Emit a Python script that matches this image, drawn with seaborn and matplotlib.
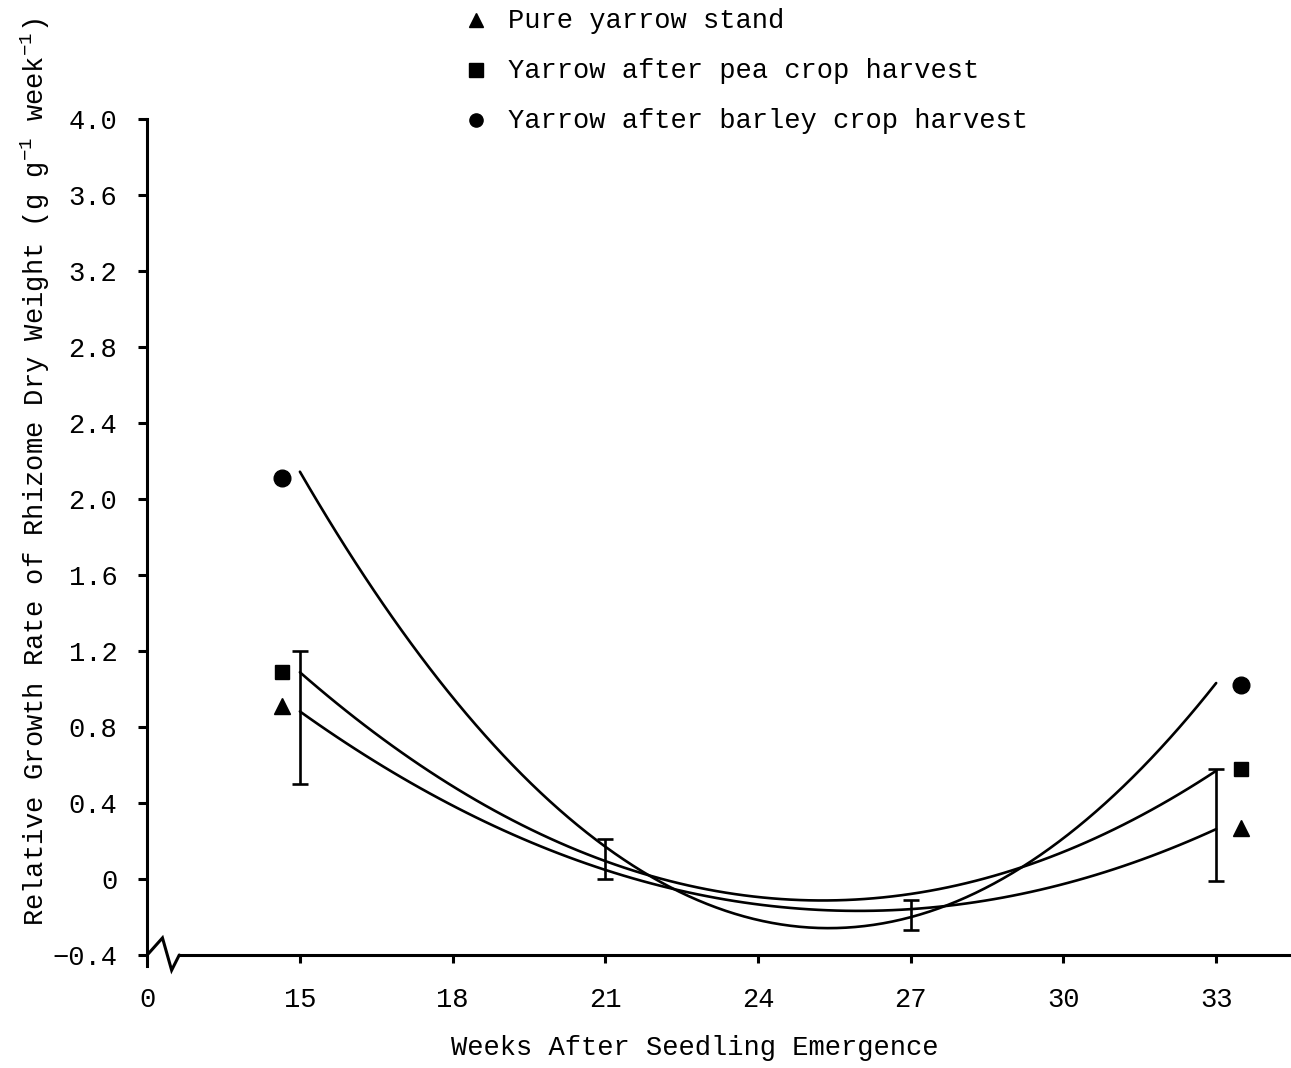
import matplotlib
matplotlib.use("Agg")
import matplotlib.pyplot as plt
from matplotlib.lines import Line2D
import numpy as np
import pandas as pd
import seaborn as sns

# Harvest weeks and relative growth rate of rhizome dry weight (g g-1 week-1)
weeks = [15, 18, 21, 24, 27, 30, 33]
pure_stand = [0.87, 0.40, 0.06, -0.14, -0.17, -0.03, 0.27]
after_pea = [1.08, 0.50, 0.10, -0.10, -0.09, 0.15, 0.57]
after_barley = [2.14, 0.96, 0.18, -0.23, -0.20, 0.22, 1.03]

series_names = ["Pure yarrow stand",
                "Yarrow after pea crop harvest",
                "Yarrow after barley crop harvest"]
series_markers = ["^", "s", "o"]

# Treatment symbols set beside the first and last harvest
first_harvest_values = [0.91, 1.09, 2.11]
last_harvest_values = [0.27, 0.58, 1.02]

# LSD bars
lsd_weeks = [15, 21, 27, 33]
lsd_low = [0.50, 0.00, -0.27, -0.01]
lsd_high = [1.20, 0.21, -0.11, 0.58]

x_ticks = [12, 15, 18, 21, 24, 27, 30, 33]
x_tick_labels = ["0", "15", "18", "21", "24", "27", "30", "33"]
y_ticks = [-0.4, 0.0, 0.4, 0.8, 1.2, 1.6, 2.0, 2.4, 2.8, 3.2, 3.6, 4.0]
y_tick_labels = ["\u22120.4", "0", "0.4", "0.8", "1.2", "1.6", "2.0",
                 "2.4", "2.8", "3.2", "3.6", "4.0"]

sns.set_style("white")
plt.rcParams["font.family"] = ["Liberation Mono", "DejaVu Sans"]
plt.rcParams["mathtext.fontset"] = "custom"
plt.rcParams["mathtext.rm"] = "Liberation Mono"
plt.rcParams["mathtext.it"] = "Liberation Mono"
plt.rcParams["mathtext.default"] = "regular"

INK = "black"
LW = 1.9
FS = 19.5

fig = plt.figure(figsize=(12.91, 10.68), dpi=100)
ax = fig.add_axes([0.0943, 0.0880, 0.9057, 0.8006])

long = pd.DataFrame({
    "week": weeks * 3,
    "rgr": pure_stand + after_pea + after_barley,
    "treatment": sum([[n] * len(weeks) for n in series_names], []),
})

# quadratic regression curve for each treatment
for name in series_names:
    sub = long[long["treatment"] == name]
    sns.regplot(data=sub, x="week", y="rgr", order=2, ci=None, scatter=False,
                truncate=True, ax=ax, line_kws=dict(color=INK, lw=LW))

# treatment symbols at the ends of the curves
left_shift, right_shift = -0.35, 0.48
marker_sizes = {"^": 12, "s": 10, "o": 12}
for m, v0, v1 in zip(series_markers, first_harvest_values, last_harvest_values):
    ax.plot([weeks[0] + left_shift], [v0], marker=m, ms=marker_sizes[m],
            color=INK, ls="none", clip_on=False)
    ax.plot([weeks[-1] + right_shift], [v1], marker=m, ms=marker_sizes[m],
            color=INK, ls="none", clip_on=False)

# LSD bars
lo = np.array(lsd_low)
hi = np.array(lsd_high)
mid = (lo + hi) / 2
ax.errorbar(lsd_weeks, mid, yerr=(hi - lo) / 2, fmt="none", ecolor=INK,
            elinewidth=LW, capsize=6, capthick=LW, clip_on=False)

# axes, spines and ticks
ax.set_xlim(11.5, 34.47)
ax.set_ylim(-0.5, 4.0)
for s in ["top", "right"]:
    ax.spines[s].set_visible(False)
ax.spines["left"].set_position(("data", 12))
ax.spines["bottom"].set_position(("data", -0.4))
ax.spines["left"].set_bounds(-0.46, 4.0)
ax.spines["bottom"].set_bounds(12.63, 34.47)
for s in ["left", "bottom"]:
    ax.spines[s].set_linewidth(2.2)
    ax.spines[s].set_color(INK)

ax.set_xticks(x_ticks)
ax.set_xticklabels(x_tick_labels)
ax.set_yticks(y_ticks)
ax.set_yticklabels(y_tick_labels)
ax.tick_params(axis="x", direction="out", length=6, width=2.2, pad=17,
               labelsize=FS, colors=INK, bottom=True)
ax.tick_params(axis="y", direction="out", length=6.5, width=2.2, pad=15,
               labelsize=FS, colors=INK, left=True)
ax.xaxis.get_major_ticks()[0].tick1line.set_visible(False)
ax.set_xlabel("")
ax.set_ylabel("")
ax.grid(False)

# axis break on the week scale
ax.plot([12.0, 12.3, 12.48, 12.63], [-0.40, -0.31, -0.48, -0.40],
        color=INK, lw=2.2, clip_on=False, solid_joinstyle="miter")

fig.text(695 / 1291, 1 - 1048 / 1068, "Weeks After Seedling Emergence",
         ha="center", va="center", fontsize=FS, color=INK)
fig.text(35 / 1291, 1 - 472 / 1068,
         "Relative Growth Rate of Rhizome Dry Weight (g g$^{-1}$ week$^{-1}$)",
         ha="center", va="center", rotation=90, fontsize=FS, color=INK)

# key
key_rows = [1 - 28 / 1068, 1 - 78 / 1068, 1 - 128 / 1068]
for name, m, yb in zip(series_names, series_markers, key_rows):
    fig.add_artist(Line2D([476 / 1291], [yb + 8 / 1068], marker=m, ms=9.5,
                          color=INK, ls="none", transform=fig.transFigure))
    fig.text(508 / 1291, yb, name, ha="left", va="baseline",
             fontsize=FS, color=INK)

fig.savefig("out.png", dpi=100, facecolor="white")
